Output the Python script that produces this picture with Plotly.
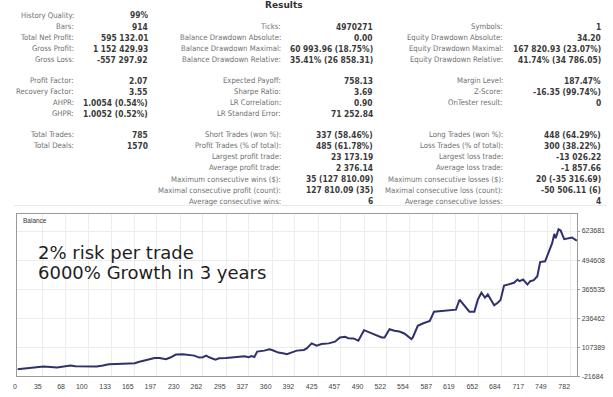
import plotly.graph_objects as go

W, H = 613, 397

# ------------------------------------------------------------------ data
title_text = "Results"

# group 1 (left block)
g1_labels_a = ["History Quality:", "Bars:", "Total Net Profit:", "Gross Profit:", "Gross Loss:"]
g1_values_a = ["99%", "914", "595 132.01", "1 152 429.93", "-557 297.92"]
g1_labels_b = ["Profit Factor:", "Recovery Factor:", "AHPR:", "GHPR:"]
g1_values_b = ["2.07", "3.55", "1.0054 (0.54%)", "1.0052 (0.52%)"]
g1_labels_c = ["Total Trades:", "Total Deals:"]
g1_values_c = ["785", "1570"]

# group 2 (middle block)
g2_labels_a = ["", "Ticks:", "Balance Drawdown Absolute:", "Balance Drawdown Maximal:", "Balance Drawdown Relative:"]
g2_values_a = ["", "4970271", "0.00", "60 993.96 (18.75%)", "35.41% (26 858.31)"]
g2_labels_b = ["Expected Payoff:", "Sharpe Ratio:", "LR Correlation:", "LR Standard Error:"]
g2_values_b = ["758.13", "3.69", "0.90", "71 252.84"]
g2_labels_c = ["Short Trades (won %):", "Profit Trades (% of total):", "Largest profit trade:",
               "Average profit trade:", "Maximum consecutive wins ($):",
               "Maximal consecutive profit (count):", "Average consecutive wins:"]
g2_values_c = ["337 (58.46%)", "485 (61.78%)", "23 173.19", "2 376.14", "35 (127 810.09)",
               "127 810.09 (35)", "6"]

# group 3 (right block)
g3_labels_a = ["", "Symbols:", "Equity Drawdown Absolute:", "Equity Drawdown Maximal:", "Equity Drawdown Relative:"]
g3_values_a = ["", "1", "34.20", "167 820.93 (23.07%)", "41.74% (34 786.05)"]
g3_labels_b = ["Margin Level:", "Z-Score:", "OnTester result:", ""]
g3_values_b = ["187.47%", "-16.35 (99.74%)", "0", ""]
g3_labels_c = ["Long Trades (won %):", "Loss Trades (% of total):", "Largest loss trade:",
               "Average loss trade:", "Maximum consecutive losses ($):",
               "Maximal consecutive loss (count):", "Average consecutive losses:"]
g3_values_c = ["448 (64.29%)", "300 (38.22%)", "-13 026.22", "-1 857.66", "20 (-35 316.69)",
               "-50 506.11 (6)", "4"]

# balance curve (trade number, balance)
trade_no = [0, 28, 37, 47, 56, 68, 75, 82, 93, 112, 121, 129, 140, 150, 159, 166, 171, 178, 187, 194,
            201, 210, 217, 224, 234, 243, 250, 257, 262, 267, 271, 280, 285, 295, 304, 313, 321, 327, 331, 335,
            339, 349, 356, 360, 369, 377, 381, 388, 395, 405, 409, 416, 423, 430, 440, 449, 456, 463, 468, 475,
            482, 490, 498, 515, 519, 526, 533, 540, 547, 557, 559, 566, 573, 583, 589, 599, 608, 615, 620, 625,
            634, 639, 646, 651, 656, 661, 665, 674, 679, 683, 688, 695, 702, 707, 710, 715, 721, 725, 730, 735,
            739, 746, 751, 756, 759, 761, 765, 768, 773, 779, 784, 789, 791]
balance = [10000, 18900, 22000, 20200, 17500, 23300, 26400, 23300, 22000, 22000, 26400, 32100, 33400, 35200,
           37800, 36500, 42200, 48400, 54100, 59900, 59900, 54100, 63000, 74900, 76200, 73100, 70400, 61600,
           63000, 70400, 63000, 52800, 58500, 59900, 63000, 66000, 67400, 63000, 68700, 64300, 88100, 92500,
           98200, 95100, 83700, 79300, 76200, 85000, 92500, 95600, 102600, 124700, 114500, 121600, 124700,
           132200, 151100, 154200, 148000, 146700, 136600, 183300, 173200, 151100, 151100, 187700, 180600,
           177600, 168700, 143600, 151100, 202700, 212800, 224700, 265700, 268800, 271400, 275900, 274500,
           318600, 283400, 265700, 265700, 319900, 349500, 327400, 342000, 293500, 305400, 317300, 381600,
           386100, 393600, 408100, 401000, 408100, 386100, 401000, 405500, 423100, 486100, 489200, 528900,
           569900, 610900, 591900, 631600, 625900, 587500, 593200, 595000, 584400, 581800]

x_ticks = [0, 35, 68, 100, 133, 165, 197, 230, 262, 295, 327, 360, 392, 425, 457, 490, 522, 554,
           587, 619, 652, 684, 717, 749, 782]
y_ticks = [-21684, 107389, 236462, 365535, 494608, 623681]

chart_label = "Balance"
note_lines = ["2% risk per trade", "6000% Growth in 3 years"]

# ------------------------------------------------------------------ layout helpers
def px(x):
    return x / W


def py(y):
    return 1 - y / H


LABEL_FONT = dict(family="DejaVu Sans Condensed, DejaVu Sans", size=7.7, color="#707070")
VALUE_FONT = dict(family="DejaVu Sans Condensed, DejaVu Sans", size=8.4, color="#3a3a3a")

annotations = []

annotations.append(dict(text="<b>" + title_text + "</b>", x=px(282), y=py(5.5), xref="paper", yref="paper",
                        xanchor="center", yanchor="middle", showarrow=False,
                        font=dict(family="DejaVu Sans", size=9, color="#333333")))

sections = [
    (15.6, [(g1_labels_a, g1_values_a), (g2_labels_a, g2_values_a), (g3_labels_a, g3_values_a)]),
    (81.4, [(g1_labels_b, g1_values_b), (g2_labels_b, g2_values_b), (g3_labels_b, g3_values_b)]),
    (135.8, [(g1_labels_c, g1_values_c), (g2_labels_c, g2_values_c), (g3_labels_c, g3_values_c)]),
]
pitch = 11.15
label_right = [72.5, 280.5, 504.0]
value_right = [147.0, 373.0, 603.0]

for y0, groups in sections:
    for gi, (labs, vals) in enumerate(groups):
        for ri, (lab, val) in enumerate(zip(labs, vals)):
            yy = y0 + ri * pitch
            if lab:
                annotations.append(dict(text=lab, x=px(label_right[gi]), y=py(yy), xref="paper", yref="paper",
                                        xanchor="right", yanchor="middle", showarrow=False, font=LABEL_FONT))
            if val:
                annotations.append(dict(text="<b>" + val + "</b>", x=px(value_right[gi]), y=py(yy),
                                        xref="paper", yref="paper", xanchor="right", yanchor="middle",
                                        showarrow=False, font=VALUE_FONT))

# chart box geometry (pixels)
CX0, CX1, CY0, CY1 = 13.5, 577.0, 216.0, 379.2

annotations.append(dict(text=chart_label, x=px(17), y=py(222.5), xref="paper", yref="paper",
                        xanchor="left", yanchor="middle", showarrow=False,
                        font=dict(family="Liberation Sans", size=6.5, color="#333333")))
for i, line in enumerate(note_lines):
    annotations.append(dict(text=line, x=px(32), y=py(254 + i * 20.5), xref="paper", yref="paper",
                            xanchor="left", yanchor="middle", showarrow=False,
                            font=dict(family="DejaVu Sans", size=18, color="#1e1e1e")))

fig = go.Figure()
fig.add_trace(go.Scatter(x=trade_no, y=balance, mode="lines",
                         line=dict(color="#30306e", width=2), hoverinfo="skip", showlegend=False))

x_span = (CX1 - CX0) / 0.712
y_per_px = (y_ticks[-1] - y_ticks[0]) / (379.2 - 232.8)
y_top = y_ticks[-1] + (232.8 - CY0) * y_per_px

TICK_FONT = dict(family="Liberation Sans Narrow, Liberation Sans", size=7, color="#444444")

fig.update_layout(
    width=W, height=H,
    margin=dict(l=0, r=0, t=0, b=0),
    paper_bgcolor="white", plot_bgcolor="white",
    annotations=annotations,
    shapes=[dict(type="line", xref="paper", yref="paper", x0=px(10), x1=px(606),
                 y0=py(207), y1=py(207), line=dict(color="#e8e8e8", width=1))],
    xaxis=dict(domain=[px(CX0), px(CX1)], range=[0, x_span], tickvals=x_ticks,
               ticktext=[str(t) for t in x_ticks], showgrid=True, gridcolor="#ececec", gridwidth=1,
               zeroline=False, showline=True, linecolor="#9a9a9a", linewidth=1, mirror=True,
               ticks="", ticklabelposition="outside left", tickfont=TICK_FONT, ticklabelstandoff=3),
    yaxis=dict(domain=[py(CY1), py(CY0)], range=[y_ticks[0], y_top], tickvals=y_ticks,
               ticktext=[str(t) for t in y_ticks], side="right", showgrid=True, gridcolor="#ececec",
               gridwidth=1, zeroline=False, showline=True, linecolor="#9a9a9a", linewidth=1, mirror=True,
               ticks="outside", ticklen=2, tickcolor="#9a9a9a", tickfont=TICK_FONT),
)

fig.write_html("out.html", config={"displayModeBar": False},
               post_script="document.body.style.margin='0';document.body.style.overflow='hidden';")
